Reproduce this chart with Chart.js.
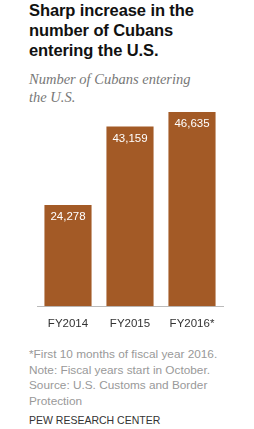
<!DOCTYPE html>
<html>
<head>
<meta charset="utf-8">
<script src="https://cdn.jsdelivr.net/npm/chart.js@4"></script>
<style>
  body { margin: 0; background: #fff; width: 254px; height: 429px; position: relative; overflow: hidden; }
  #title { position: absolute; left: 29px; top: 0px; font: bold 16.5px "Liberation Sans", Arial, sans-serif; line-height: 20px; color: #111; letter-spacing: -0.1px; }
  #sub { position: absolute; left: 29px; top: 70px; font: italic 14.5px "Liberation Serif", serif; line-height: 18px; color: #777; }
  #wrap { position: absolute; left: 0; top: 90px; width: 254px; height: 252px; }
  #foot { position: absolute; left: 29px; top: 347px; font: 11.8px "Liberation Sans", Arial, sans-serif; line-height: 15.5px; color: #999; }
  #pew { position: absolute; left: 29px; top: 414px; font: 10.5px "Liberation Sans", Arial, sans-serif; color: #333; }
</style>
</head>
<body>
<div id="title">Sharp increase in the<br>number of Cubans<br>entering the U.S.</div>
<div id="sub">Number of Cubans entering<br>the U.S.</div>
<div id="wrap"><canvas id="mycanvas"></canvas></div>
<div id="foot">*First 10 months of fiscal year 2016.<br>Note: Fiscal years start in October.<br>Source: U.S. Customs and Border<br>Protection</div>
<div id="pew">PEW RESEARCH CENTER</div>
<script>
"use strict";
var years = ['FY2014', 'FY2015', 'FY2016*'];
var cubans = [24278, 43159, 46635];

var valueLabels = {
  id: 'valueLabels',
  afterDatasetsDraw: function (chart) {
    var ctx = chart.ctx;
    var meta = chart.getDatasetMeta(0);
    ctx.save();
    ctx.fillStyle = '#fff';
    ctx.font = '500 11.5px "Liberation Sans", Arial, sans-serif';
    ctx.textAlign = 'center';
    ctx.textBaseline = 'middle';
    meta.data.forEach(function (bar, i) {
      ctx.fillText(cubans[i].toLocaleString('en-US'), bar.x, bar.y + 12);
    });
    ctx.restore();
  }
};

var chartdata = {
  labels: years,
  datasets: [{
    data: cubans,
    backgroundColor: '#a35a26',
    borderWidth: 0,
    barPercentage: 0.76,
    categoryPercentage: 1
  }]
};

new Chart(document.getElementById('mycanvas'), {
  type: 'bar',
  data: chartdata,
  plugins: [valueLabels],
  options: {
    responsive: true,
    maintainAspectRatio: false,
    animation: false,
    layout: { padding: { left: 37, right: 31, top: 8, bottom: 8 } },
    plugins: { legend: { display: false }, tooltip: { enabled: false } },
    scales: {
      y: { display: false, min: 0, max: 50000 },
      x: {
        grid: { display: false },
        border: { display: true, color: '#bbb' },
        ticks: { color: '#333', font: { size: 11.5, family: '"Liberation Sans", Arial, sans-serif' }, padding: 3 }
      }
    }
  }
});
</script>
</body>
</html>
